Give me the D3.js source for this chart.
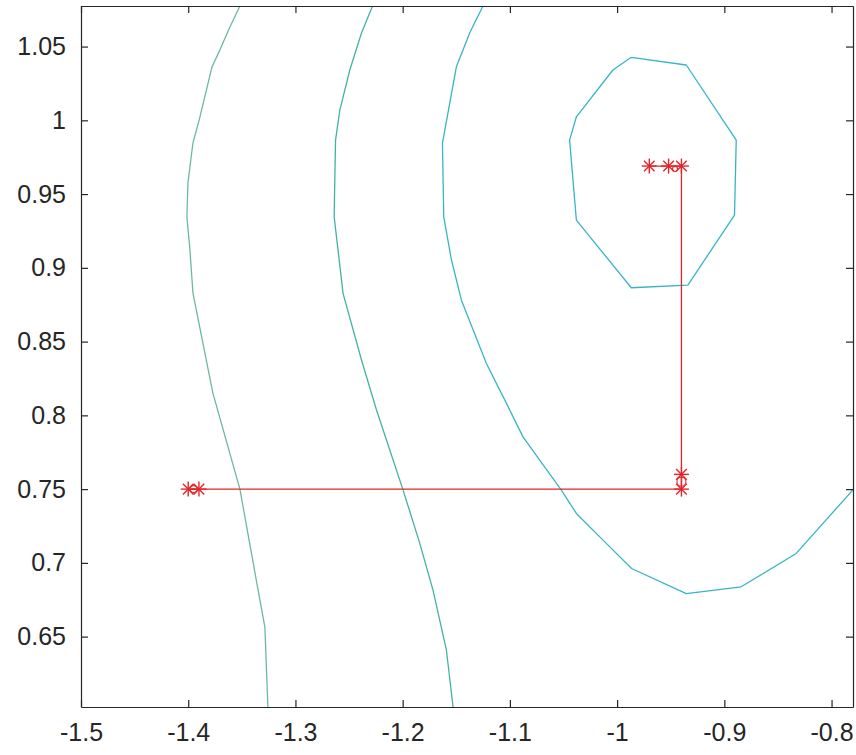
<!DOCTYPE html>
<html>
<head>
<meta charset="utf-8">
<script src="https://cdn.jsdelivr.net/npm/d3@7"></script>
<style>
  html, body { margin: 0; padding: 0; background: #ffffff; }
  svg { display: block; }
  .tick text { font-family: "Liberation Sans", Arial, sans-serif; fill: #262626; }
</style>
</head>
<body>
<svg id="chart" width="856" height="755"></svg>
<script>
// Axis ranges and tick values
const xDomain = [-1.5, -0.78];
const yDomain = [0.6023, 1.0775];
const xTicks = [-1.5, -1.4, -1.3, -1.2, -1.1, -1.0, -0.9, -0.8];
const xTickLabels = ["-1.5", "-1.4", "-1.3", "-1.2", "-1.1", "-1", "-0.9", "-0.8"];
const yTicks = [0.65, 0.7, 0.75, 0.8, 0.85, 0.9, 0.95, 1.0, 1.05];
const yTickLabels = ["0.65", "0.7", "0.75", "0.8", "0.85", "0.9", "0.95", "1", "1.05"];

// Contour level lines, [x, y] pairs
const contourA = [
  [-1.3518, 1.0775], [-1.3611, 1.0632], [-1.3705, 1.0476], [-1.3779, 1.0361],
  [-1.3891, 1.0022], [-1.3956, 0.9846], [-1.4003, 0.9575], [-1.4012, 0.9344],
  [-1.3984, 0.9120], [-1.3956, 0.8829], [-1.3770, 0.8151], [-1.3518, 0.7500],
  [-1.3360, 0.6863], [-1.3285, 0.6564], [-1.3257, 0.6023]
];
const contourB = [
  [-1.2281, 1.0775], [-1.2384, 1.0592], [-1.2493, 1.0341], [-1.2586, 1.0069],
  [-1.2626, 0.9866], [-1.2639, 0.9346], [-1.2556, 0.8827], [-1.2384, 0.8375],
  [-1.2244, 0.8036], [-1.1996, 0.7493], [-1.1841, 0.7134], [-1.1717, 0.6815],
  [-1.1592, 0.6408], [-1.1530, 0.6023]
];
const contourC = [
  [-1.1251, 1.0775], [-1.1375, 1.0592], [-1.1499, 1.0363], [-1.1561, 1.0117],
  [-1.1629, 0.9846], [-1.1617, 0.9346], [-1.1545, 0.9053], [-1.1452, 0.8781],
  [-1.1219, 0.8352], [-1.1033, 0.8083], [-1.0878, 0.7854], [-1.0520, 0.7493],
  [-1.0380, 0.7335], [-1.0101, 0.7132], [-0.9865, 0.6962], [-0.9355, 0.6792],
  [-0.8843, 0.6838], [-0.8330, 0.7064], [-0.7803, 0.7493]
];
const contourD = [
  [-0.9868, 1.0427], [-0.9355, 1.0375], [-0.8889, 0.9866], [-0.8905, 0.9358],
  [-0.9340, 0.8883], [-0.9868, 0.8865], [-1.0380, 0.9324], [-1.0443, 0.9866],
  [-1.0380, 1.0024], [-1.0039, 1.0341], [-0.9868, 1.0427]
];
const contourColors = ["#6db99c", "#45b1a6", "#38b5c4", "#38b5c4"];

// Search path (iterates) and intermediate trial points
const pathX = [-1.40, -1.39, -0.94, -0.94, -0.94, -0.952, -0.97];
const pathY = [0.75, 0.75, 0.75, 0.76, 0.969, 0.969, 0.969];
const trialX = [-1.395, -0.94, -0.946];
const trialY = [0.75, 0.755, 0.967];
const trialR = [3.5, 4.5, 2.5];

const svg = d3.select("#chart");
const plot = { left: 81, right: 853, top: 6, bottom: 707 };

const x = d3.scaleLinear().domain(xDomain).range([plot.left, plot.right]);
const y = d3.scaleLinear().domain(yDomain).range([plot.bottom, plot.top]);

svg.append("defs").append("clipPath").attr("id", "plotclip")
  .append("rect")
  .attr("x", plot.left).attr("y", plot.top)
  .attr("width", plot.right - plot.left).attr("height", plot.bottom - plot.top);

const g = svg.append("g").attr("clip-path", "url(#plotclip)");
const line = d3.line().x(d => x(d[0])).y(d => y(d[1]));

// contour lines
[contourA, contourB, contourC, contourD].forEach((c, i) => {
  g.append("path")
    .attr("d", line(c))
    .attr("fill", "none")
    .attr("stroke", contourColors[i])
    .attr("stroke-width", 1.3)
    .attr("stroke-linejoin", "round");
});

// search path
const pathPts = pathX.map((v, i) => [v, pathY[i]]);
g.append("path")
  .attr("d", line(pathPts))
  .attr("fill", "none")
  .attr("stroke", "#e3262b")
  .attr("stroke-width", 1.3);

// trial points (circles)
g.selectAll("circle.trial")
  .data(trialX.map((v, i) => [v, trialY[i], trialR[i]]))
  .enter().append("circle")
  .attr("class", "trial")
  .attr("cx", d => x(d[0])).attr("cy", d => y(d[1]))
  .attr("r", d => d[2])
  .attr("fill", "none")
  .attr("stroke", "#e3262b")
  .attr("stroke-width", 1.1);

// asterisk markers at the iterates
const starR = 7.5;
const spokes = [0, 45, 90, 135].map(a => a * Math.PI / 180);
const stars = g.selectAll("g.star")
  .data(pathPts)
  .enter().append("g")
  .attr("class", "star")
  .attr("transform", d => `translate(${x(d[0])},${y(d[1])})`);
spokes.forEach(a => {
  stars.append("line")
    .attr("x1", -starR * Math.cos(a)).attr("y1", -starR * Math.sin(a))
    .attr("x2", starR * Math.cos(a)).attr("y2", starR * Math.sin(a))
    .attr("stroke", "#e3262b")
    .attr("stroke-width", 1.4);
});

// axes: ticks point inward on all four sides
const fontSize = "25px";
const axB = svg.append("g").attr("transform", `translate(0,${plot.bottom})`)
  .call(d3.axisBottom(x).tickValues(xTicks).tickFormat((d, i) => xTickLabels[i])
    .tickSizeInner(-7).tickSizeOuter(0).tickPadding(16));
const axL = svg.append("g").attr("transform", `translate(${plot.left},0)`)
  .call(d3.axisLeft(y).tickValues(yTicks).tickFormat((d, i) => yTickLabels[i])
    .tickSizeInner(-7).tickSizeOuter(0).tickPadding(15));
const axT = svg.append("g").attr("transform", `translate(0,${plot.top})`)
  .call(d3.axisTop(x).tickValues(xTicks).tickFormat("")
    .tickSizeInner(-7).tickSizeOuter(0));
const axR = svg.append("g").attr("transform", `translate(${plot.right},0)`)
  .call(d3.axisRight(y).tickValues(yTicks).tickFormat("")
    .tickSizeInner(-7).tickSizeOuter(0));

[axB, axL, axT, axR].forEach(a => {
  a.select(".domain").attr("stroke", "#262626").attr("stroke-width", 1.2);
  a.selectAll(".tick line").attr("stroke", "#262626").attr("stroke-width", 1.2);
  a.selectAll(".tick text").attr("font-size", fontSize).attr("fill", "#333333");
});
</script>
</body>
</html>
